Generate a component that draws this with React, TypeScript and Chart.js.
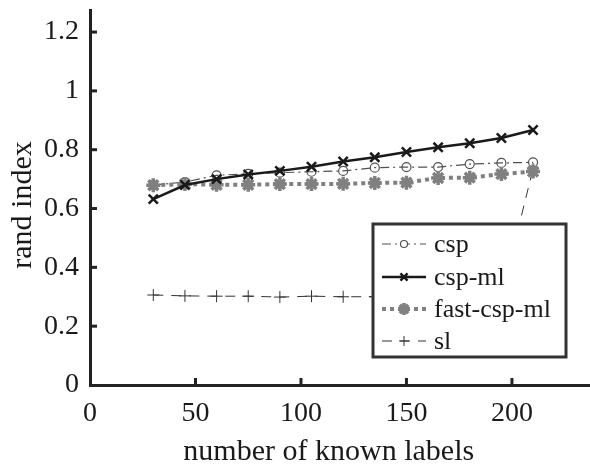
import React, { useEffect, useRef } from "react";
import { Chart, registerables } from "chart.js";

Chart.register(...registerables);

const knownLabels = [30, 45, 60, 75, 90, 105, 120, 135, 150, 165, 180, 195, 210];
const cspValues = [0.68, 0.69, 0.713, 0.718, 0.722, 0.725, 0.728, 0.739, 0.741, 0.741, 0.751, 0.755, 0.757];
const cspMlValues = [0.632, 0.68, 0.70, 0.716, 0.728, 0.742, 0.76, 0.774, 0.792, 0.808, 0.822, 0.84, 0.867];
const fastCspMlValues = [0.679, 0.683, 0.681, 0.681, 0.683, 0.683, 0.684, 0.687, 0.688, 0.704, 0.705, 0.717, 0.726];
const slValues = [0.306, 0.303, 0.302, 0.302, 0.299, 0.302, 0.3, 0.3, 0.3, 0.3, 0.3, 0.3, 0.735];

const xTicks = [0, 50, 100, 150, 200];
const yTicks = [0, 0.2, 0.4, 0.6, 0.8, 1, 1.2];
const seriesNames = ["csp", "csp-ml", "fast-csp-ml", "sl"];

const FONT = '"Liberation Serif", "Times New Roman", Times, serif';
const AXIS = "#222222";

function drawPointLocal(ctx: CanvasRenderingContext2D, style: string, r: number, x: number, y: number) {
  ctx.beginPath();
  if (style === "circle") {
    ctx.arc(x, y, r, 0, Math.PI * 2);
    ctx.fillStyle = "#ffffff";
    ctx.fill();
    ctx.stroke();
    return;
  }
  const d = r * Math.SQRT1_2;
  if (style === "crossRot" || style === "star") {
    ctx.moveTo(x - d, y - d); ctx.lineTo(x + d, y + d);
    ctx.moveTo(x - d, y + d); ctx.lineTo(x + d, y - d);
  }
  if (style === "cross" || style === "star") {
    ctx.moveTo(x, y - r); ctx.lineTo(x, y + r);
    ctx.moveTo(x - r, y); ctx.lineTo(x + r, y);
  }
  ctx.stroke();
}

export default function App() {
  const ref = useRef<HTMLCanvasElement | null>(null);

  useEffect(() => {
    if (!ref.current) return;
    const styles = [
      { color: "#505050", width: 1.2, dash: [9, 4, 2, 4], point: "circle", radius: 4.5, pw: 1.2, bg: "rgba(0,0,0,0)" },
      { color: "#1a1a1a", width: 2.5, dash: [], point: "crossRot", radius: 6.5, pw: 2.5, bg: "#1a1a1a" },
      { color: "#808080", width: 4, dash: [4, 4], point: "star", radius: 7, pw: 3.5, bg: "#808080" },
      { color: "#333333", width: 1, dash: [10, 8], point: "cross", radius: 6, pw: 1, bg: "#333333" },
    ];
    const values = [cspValues, cspMlValues, fastCspMlValues, slValues];
    const order = [2, 0, 1, 3];
    const datasets = seriesNames.map((name, i) => ({
      label: name,
      data: knownLabels.map((x, j) => ({ x, y: values[i][j] })),
      borderColor: styles[i].color,
      borderWidth: styles[i].width,
      borderDash: styles[i].dash,
      pointStyle: styles[i].point as any,
      pointRadius: styles[i].radius,
      pointBorderWidth: styles[i].pw,
      pointBorderColor: styles[i].color,
      pointBackgroundColor: styles[i].bg,
      fill: false,
      tension: 0,
      order: order[i],
    }));

    const tickPlugin = {
      id: "inwardTicks",
      afterDatasetsDraw(chart: any) {
        const ctx = chart.ctx;
        const xs = chart.scales.x;
        const ys = chart.scales.y;
        const area = chart.chartArea;
        ctx.save();
        ctx.strokeStyle = AXIS;
        ctx.lineWidth = 3;
        ctx.setLineDash([]);
        xTicks.forEach((t) => {
          if (t === 0) return;
          const px = xs.getPixelForValue(t);
          ctx.beginPath();
          ctx.moveTo(px, area.bottom);
          ctx.lineTo(px, area.bottom - 7);
          ctx.stroke();
        });
        yTicks.forEach((t) => {
          if (t === 0) return;
          const py = ys.getPixelForValue(t);
          ctx.beginPath();
          ctx.moveTo(area.left, py);
          ctx.lineTo(area.left + 7, py);
          ctx.stroke();
        });

        // legend box
        const bx = 373, by = 224, bw = 193, bh = 133;
        ctx.fillStyle = "#ffffff";
        ctx.fillRect(bx, by, bw, bh);
        ctx.strokeStyle = "#333333";
        ctx.lineWidth = 3;
        ctx.strokeRect(bx, by, bw, bh);
        const rows = [244, 277, 309, 341];
        chart.data.datasets.forEach((ds: any, i: number) => {
          const y = rows[i];
          ctx.save();
          ctx.strokeStyle = ds.borderColor;
          ctx.lineWidth = ds.borderWidth;
          ctx.setLineDash(ds.borderDash || []);
          ctx.beginPath();
          ctx.moveTo(382, y);
          ctx.lineTo(426, y);
          ctx.stroke();
          ctx.setLineDash([]);
          ctx.fillStyle = ds.pointBackgroundColor;
          ctx.strokeStyle = ds.pointBorderColor;
          ctx.lineWidth = ds.pointBorderWidth;
          const r = i === 0 ? 3.5 : i === 1 ? 5 : i === 2 ? 6 : 5;
          drawPointLocal(ctx, ds.pointStyle, r, 404, y);
          ctx.restore();
          ctx.fillStyle = "#1a1a1a";
          ctx.font = `26px ${FONT}`;
          ctx.textBaseline = "middle";
          ctx.textAlign = "left";
          ctx.fillText(ds.label, 434, y + 1);
        });
        ctx.restore();
      },
    };

    const chart = new Chart(ref.current, {
      type: "line",
      data: { datasets: datasets as any },
      options: {
        animation: false,
        responsive: false,
        maintainAspectRatio: false,
        layout: { autoPadding: false, padding: { top: 10, right: 0, left: 0, bottom: 0 } },
        plugins: { legend: { display: false }, tooltip: { enabled: false } },
        scales: {
          x: {
            type: "linear",
            min: 0,
            max: 237,
            grid: { display: false, drawTicks: false },
            border: { display: true, color: AXIS, width: 3 },
            afterBuildTicks: (scale: any) => {
              scale.ticks = xTicks.map((v) => ({ value: v }));
            },
            afterFit: (scale: any) => {
              scale.height = 79;
              scale.paddingLeft = 0;
              scale.paddingRight = 0;
            },
            ticks: {
              padding: 12,
              color: "#1a1a1a",
              font: { family: FONT, size: 28 },
              callback: (v: any) => String(v),
              maxRotation: 0,
            },
            title: {
              display: true,
              text: "number of known labels   ",
              color: "#1a1a1a",
              font: { family: FONT, size: 30, lineHeight: 0.8 },
              padding: 0,
            },
          },
          y: {
            type: "linear",
            min: 0,
            max: 1.275,
            grid: { display: false, drawTicks: false },
            border: { display: true, color: AXIS, width: 3 },
            afterBuildTicks: (scale: any) => {
              scale.ticks = yTicks.map((v) => ({ value: v }));
            },
            afterFit: (scale: any) => {
              scale.width = 90;
              scale.paddingTop = 0;
              scale.paddingBottom = 0;
            },
            ticks: {
              padding: 11,
              color: "#1a1a1a",
              font: { family: FONT, size: 28 },
              callback: (v: any) => String(+Number(v).toFixed(1)),
            },
            title: {
              display: true,
              text: "rand index  ",
              color: "#1a1a1a",
              font: { family: FONT, size: 30, lineHeight: 1.2 },
              padding: { top: 5, bottom: 0 },
            },
          },
        },
      },
      plugins: [tickPlugin],
    });
    return () => chart.destroy();
  }, []);

  return (
    <div style={{ position: "fixed", left: 0, top: 0, width: 590, height: 464, background: "#fff" }}>
      <canvas ref={ref} width={590} height={464} style={{ display: "block" }} />
    </div>
  );
}
